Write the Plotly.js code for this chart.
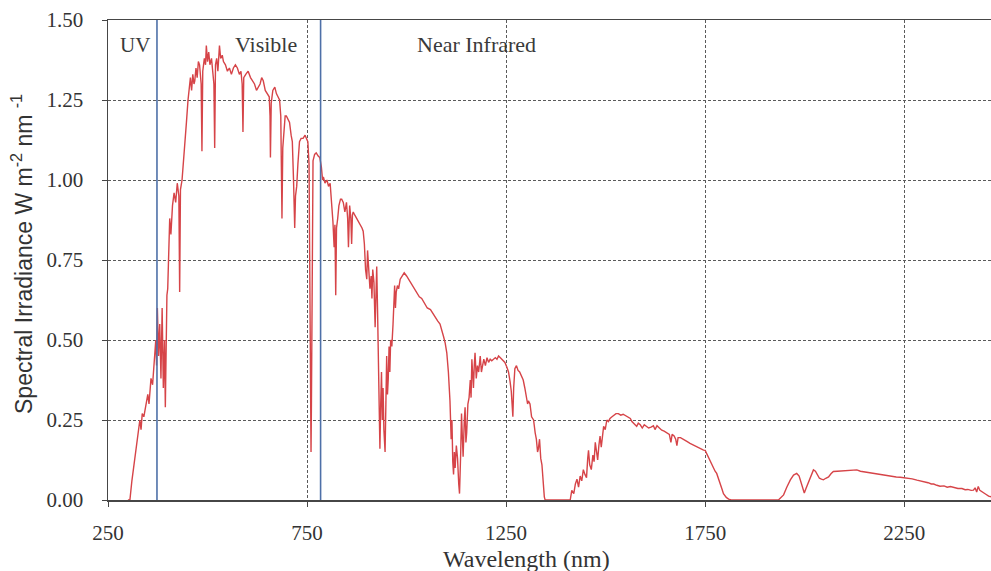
<!DOCTYPE html>
<html>
<head>
<meta charset="utf-8">
<script src="https://cdn.plot.ly/plotly-3.0.1.min.js"></script>
<style>
  html, body { margin: 0; padding: 0; background: #ffffff; }
  #chart { width: 991px; height: 571px; }
</style>
</head>
<body>
<div id="chart"></div>
<script>
// Wavelength (nm) and spectral irradiance (W m-2 nm-1)
const wavelength = [
  300,305,310,318,325,330,333,336,340,345,350,353,358,362,366,370,372,374,377,380,
  383,386,389,392,394,396,398,400,402,405,408,412,416,420,424,428,430,432,436,440,
  443,447,451,454,457,460,463,466,468,471,474,477,480,484,486,488,492,495,497,500,
  503,506,510,513,516,518,520,523,526,530,533,537,540,545,550,555,560,565,570,575,
  580,584,587,589,591,596,602,608,613,618,623,627,632,636,640,645,650,655,657,658,
  660,664,669,673,677,681,684,686,687,689,692,695,698,702,706,710,713,716,719,721,
  724,727,731,735,740,745,749,752,755,757,759,760,761,763,765,769,773,778,782,786,
  789,791,795,800,804,808,812,815,818,820,822,824,827,830,834,837,841,845,849,852,
  854,857,860,862,864,866,870,875,879,884,888,891,894,897,900,902,905,908,911,913,
  915,918,921,923,925,927,929,931,933,935,937,939,941,943,946,948,950,952,954,956,
  958,960,963,966,968,970,972,974,977,980,984,988,994,1000,1005,1009,1015,1020,1026,1032,
  1038,1046,1052,1060,1067,1072,1078,1084,1089,1093,1097,1101,1105,1109,1112,1114,1116,1118,1120,1122,
  1125,1128,1131,1133,1136,1138,1140,1142,1145,1147,1149,1151,1154,1157,1160,1162,1164,1166,1168,1170,
  1172,1175,1178,1181,1185,1188,1191,1194,1198,1202,1206,1210,1214,1218,1223,1227,1231,1235,1239,1243,
  1247,1252,1256,1260,1263,1265,1267,1269,1272,1276,1280,1284,1288,1293,1297,1300,1304,1306,1310,1314,
  1319,1323,1326,1329,1331,1334,1337,1340,1343,1346,1348,1411,1415,1420,1424,1428,1432,1436,1440,1444,
  1448,1452,1455,1457,1460,1464,1468,1471,1474,1477,1480,1483,1486,1489,1492,1495,1499,1503,1507,1511,
  1516,1520,1526,1532,1538,1544,1549,1555,1562,1566,1569,1574,1578,1582,1587,1592,1597,1602,1608,1614,
  1620,1624,1629,1635,1641,1647,1654,1660,1664,1667,1672,1676,1679,1682,1688,1696,1704,1712,1720,1729,
  1737,1746,1750,1754,1758,1762,1766,1770,1775,1779,1783,1788,1792,1796,1803,1809,1815,1934,1940,1947,
  1955,1964,1972,1980,1986,1990,1994,1999,2003,2008,2014,2018,2022,2027,2032,2037,2042,2047,2053,2060,
  2066,2072,2082,2090,2098,2110,2120,2131,2140,2150,2158,2165,2175,2185,2198,2210,2220,2230,2240,2250,
  2260,2270,2282,2290,2300,2310,2318,2324,2332,2340,2350,2358,2366,2375,2385,2395,2403,2410,2418,2424,
  2428,2432,2436,2440,2445,2449,2455,2462,2468
];
const irradiance = [
  0,0,0.06,0.13,0.2,0.25,0.22,0.27,0.26,0.3,0.33,0.3,0.38,0.36,0.44,0.5,0.42,0.6,0.45,0.55,
  0.38,0.6,0.35,0.5,0.29,0.55,0.64,0.66,0.78,0.88,0.83,0.92,0.96,0.93,0.99,0.95,0.65,0.97,1.0,1.06,
  1.1,1.18,1.25,1.3,1.32,1.28,1.33,1.3,1.31,1.35,1.32,1.37,1.36,1.3,1.09,1.34,1.38,1.36,1.42,1.37,
  1.4,1.36,1.38,1.34,1.3,1.1,1.36,1.38,1.34,1.42,1.38,1.39,1.37,1.36,1.34,1.35,1.33,1.35,1.36,1.35,
  1.33,1.34,1.3,1.15,1.32,1.33,1.34,1.32,1.31,1.3,1.28,1.29,1.3,1.32,1.31,1.28,1.27,1.26,1.2,1.07,
  1.24,1.28,1.29,1.27,1.26,1.25,1.2,1.05,0.88,1.1,1.16,1.2,1.2,1.19,1.18,1.14,1.12,1.0,0.85,0.95,
  0.98,1.05,1.12,1.13,1.13,1.14,1.13,1.12,1.05,0.66,0.5,0.15,0.3,0.6,1.06,1.08,1.085,1.075,1.07,1.04,
  1.0,1.01,0.99,1.0,0.98,0.99,0.93,0.87,0.79,0.86,0.64,0.85,0.88,0.92,0.94,0.94,0.93,0.9,0.93,0.88,
  0.79,0.92,0.88,0.8,0.89,0.9,0.89,0.88,0.87,0.86,0.85,0.84,0.8,0.72,0.69,0.78,0.73,0.66,0.7,0.63,
  0.72,0.68,0.54,0.7,0.73,0.6,0.46,0.3,0.16,0.3,0.4,0.25,0.35,0.22,0.15,0.3,0.45,0.33,0.38,0.48,
  0.4,0.5,0.48,0.55,0.62,0.67,0.6,0.65,0.67,0.66,0.69,0.7,0.71,0.7,0.69,0.68,0.67,0.66,0.645,0.635,
  0.63,0.615,0.6,0.595,0.58,0.57,0.56,0.55,0.53,0.51,0.49,0.46,0.4,0.31,0.19,0.25,0.12,0.08,0.15,0.1,
  0.17,0.13,0.05,0.02,0.15,0.27,0.2,0.135,0.25,0.29,0.18,0.21,0.3,0.32,0.375,0.32,0.44,0.4,0.35,0.42,
  0.46,0.38,0.42,0.4,0.45,0.4,0.42,0.44,0.42,0.445,0.43,0.44,0.435,0.44,0.445,0.44,0.45,0.445,0.44,0.437,
  0.43,0.415,0.4,0.37,0.34,0.3,0.26,0.35,0.41,0.42,0.405,0.4,0.39,0.375,0.35,0.33,0.3,0.31,0.3,0.26,
  0.25,0.21,0.19,0.15,0.16,0.19,0.13,0.11,0.05,0.01,0,0,0.03,0.02,0.05,0.065,0.04,0.075,0.06,0.095,
  0.08,0.07,0.13,0.155,0.11,0.095,0.14,0.12,0.18,0.14,0.125,0.17,0.2,0.165,0.21,0.23,0.22,0.25,0.245,0.255,
  0.26,0.265,0.27,0.27,0.265,0.268,0.265,0.26,0.255,0.245,0.24,0.235,0.23,0.24,0.235,0.225,0.235,0.23,0.225,0.228,
  0.232,0.22,0.232,0.225,0.218,0.215,0.21,0.205,0.18,0.205,0.2,0.19,0.17,0.195,0.195,0.19,0.183,0.177,0.172,0.166,
  0.16,0.156,0.155,0.145,0.13,0.12,0.11,0.105,0.09,0.083,0.07,0.05,0.035,0.02,0.008,0.003,0,0,0.006,0.016,
  0.04,0.063,0.078,0.083,0.075,0.06,0.04,0.022,0.035,0.052,0.073,0.085,0.094,0.09,0.08,0.068,0.065,0.063,0.068,0.072,
  0.082,0.089,0.09,0.091,0.092,0.093,0.094,0.094,0.09,0.088,0.085,0.083,0.082,0.08,0.078,0.076,0.074,0.072,0.071,0.07,
  0.067,0.066,0.062,0.06,0.058,0.054,0.05,0.05,0.046,0.043,0.044,0.04,0.042,0.038,0.036,0.036,0.032,0.033,0.03,0.031,
  0.038,0.025,0.042,0.03,0.025,0.021,0.018,0.012,0.01
];
const xTickVals = [250, 750, 1250, 1750, 2250];
const xTickText = ["250", "750", "1250", "1750", "2250"];
const yTickVals = [0, 0.25, 0.5, 0.75, 1.0, 1.25, 1.5];
const yTickText = ["0.00", "0.25", "0.50", "0.75", "1.00", "1.25", "1.50"];
const regionBounds = [373, 784];
const regionLabels = ["UV", "Visible", "Near Infrared"];
const regionLabelX = [319, 646, 1175];

const serif = "'Liberation Serif', 'Times New Roman', serif";
const sans = "'Liberation Sans', Arial, sans-serif";

const shapes = regionBounds.map(b => ({
  type: "line", xref: "x", yref: "paper", x0: b, x1: b, y0: 0, y1: 1,
  line: { color: "rgb(78,112,168)", width: 1.6 }
}));

const annotations = regionLabels.map((t, i) => ({
  text: t, x: regionLabelX[i], y: 1.422, xref: "x", yref: "y",
  showarrow: false, xanchor: "center", yanchor: "middle",
  font: { family: serif, size: i === 0 ? 21 : 22, color: "#3a3a3a" }
}));
annotations.push({
  text: "Wavelength (nm)", xref: "paper", yref: "paper", x: 0.4745, y: 0,
  yshift: -59, showarrow: false, xanchor: "center", yanchor: "middle",
  font: { family: serif, size: 24, color: "#333" }
});
annotations.push({
  text: "Spectral Irradiance W m<sup>-2</sup> nm <sup>-1</sup>", xref: "paper", yref: "paper",
  x: 0, xshift: -86, y: 0.5125, textangle: -90, showarrow: false,
  xanchor: "center", yanchor: "middle",
  font: { family: sans, size: 23, color: "#333" }
});

const trace = {
  x: wavelength, y: irradiance, type: "scatter", mode: "lines",
  line: { color: "rgb(214,68,72)", width: 1.4 },
  hoverinfo: "skip"
};

const layout = {
  width: 991, height: 571,
  margin: { l: 108, r: 0, t: 20, b: 71, pad: 0 },
  paper_bgcolor: "#ffffff", plot_bgcolor: "#ffffff",
  showlegend: false,
  xaxis: {
    range: [250, 2468], tickvals: xTickVals, ticktext: xTickText,
    showgrid: true, gridcolor: "rgb(90,90,90)", gridwidth: 1, griddash: "3px,2px",
    showline: true, linecolor: "rgb(70,70,70)", linewidth: 1.5, mirror: true,
    ticks: "outside", ticklen: 5, tickcolor: "rgb(70,70,70)",
    ticklabelstandoff: 8,
    tickfont: { family: serif, size: 21, color: "#333" },
    zeroline: false
  },
  yaxis: {
    range: [0, 1.5], tickvals: yTickVals, ticktext: yTickText,
    showgrid: true, gridcolor: "rgb(90,90,90)", gridwidth: 1, griddash: "3px,2px",
    showline: true, linecolor: "rgb(70,70,70)", linewidth: 1.5,
    ticks: "outside", ticklen: 5, tickcolor: "rgb(70,70,70)",
    ticklabelstandoff: 14,
    tickfont: { family: serif, size: 21, color: "#333" },
    zeroline: false
  },
  shapes: shapes,
  annotations: annotations
};

Plotly.newPlot("chart", [trace], layout, { displayModeBar: false, staticPlot: true });
</script>
</body>
</html>
